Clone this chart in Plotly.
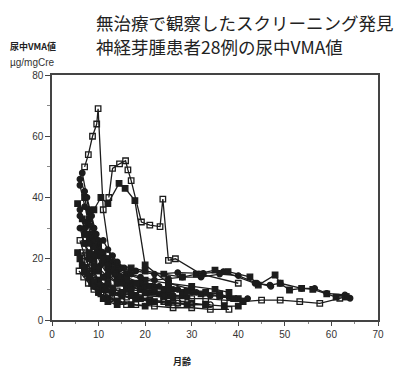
import plotly.graph_objects as go

# ---- data (month of age, urinary VMA µg/mgCre) ----
m01 = [7.0, 7.8, 8.7, 9.6, 9.9, 11.0, 12.5, 15, 19, 24, 30]
v01 = [50, 54, 60, 64, 69, 36, 20, 14, 10, 8, 7]
m02 = [12.2, 13, 14.5, 15.8, 16.3, 17, 19.2, 21, 23.2, 23.8, 25, 26.5, 32, 40]
v02 = [40, 49.5, 51, 52, 49, 45.5, 32, 31, 30.5, 39.5, 19.5, 20, 15, 12]
m03 = [9, 10.5, 12, 14.4, 15.7, 17.8, 20, 25, 30]
v03 = [36, 40, 38, 44.6, 43, 39, 18, 12, 10]
m04 = [6, 7, 8, 9, 10, 12, 14, 17, 21, 26]
v04 = [46, 42, 36, 30, 24, 18, 14, 11, 9, 7]
m05 = [5.5, 6.5, 7.5, 9, 11, 13, 16, 20, 25, 30, 35, 38]
v05 = [38, 33, 28, 24, 20, 17, 15, 13, 12, 11, 10, 9]
m06 = [6, 7, 8, 9.5, 11, 13, 15, 18, 22, 27, 32.5, 36.8, 43.6, 46.8, 49, 53.6, 56.4, 59, 62.9, 64]
v06 = [34, 30, 27, 24, 21, 19, 17, 16, 15, 15.5, 15.2, 15.8, 12, 11.4, 12, 10.3, 10.3, 8.7, 8.2, 7.1]
m07 = [7, 8, 9, 10.5, 12, 14, 17, 20, 24, 28, 31, 35, 37.8, 42.5, 44.3, 47.9, 49, 51, 53.6, 56, 59, 61, 63]
v07 = [28, 26, 24, 22, 20, 18, 17, 16, 15, 14, 15, 16.3, 15.8, 14.1, 11.4, 14.7, 12, 9.8, 10.3, 10, 8.5, 7.5, 7.6]
m08 = [6.5, 7.5, 8.5, 10, 12, 14, 17, 20, 24, 28, 33, 37, 41, 45, 49, 53.2, 57.5, 61.8, 63.2]
v08 = [22, 19, 16, 13, 11, 9.5, 8.5, 8, 7.5, 7, 7, 6.5, 6, 6.5, 6.5, 6, 5.4, 7.1, 7.6]
m09 = [6, 7, 8, 9, 10, 11, 13, 15, 18]
v09 = [30, 25, 20, 16, 13, 11, 9, 8, 7]
m10 = [7, 8, 9, 10, 12, 14, 16, 19, 22, 25, 28]
v10 = [25, 22, 20, 17, 14, 12, 11, 10, 9, 8, 8]
m11 = [6.5, 7.5, 8.5, 9.5, 11, 13, 15, 18, 21, 24, 27, 30, 34]
v11 = [18, 16, 14, 12, 10, 9, 8, 7, 6.5, 6, 5.5, 5, 5]
m12 = [5.5, 6.5, 7.5, 8.5, 10, 12, 14, 17, 20]
v12 = [22, 18, 15, 12, 9, 7, 6, 5, 4.5]
m13 = [8, 9, 10, 11, 12, 14, 16, 19, 23, 27, 31]
v13 = [35, 30, 26, 22, 19, 16, 14, 12, 11, 10, 9]
m14 = [7, 8, 9, 10, 11, 12.5, 14, 16, 18, 21]
v14 = [40, 33, 28, 24, 20, 16, 13, 10, 8, 6]
m15 = [6, 7, 8, 9, 10.5, 12, 14, 16]
v15 = [26, 21, 17, 13, 10, 8, 6, 5]
m16 = [8.5, 9.5, 10.5, 12, 14, 16, 19, 22, 26, 30, 34, 38, 42]
v16 = [28, 24, 21, 18, 15, 13, 12, 11, 10, 9, 8, 7.5, 7]
m17 = [6, 7, 8, 9, 10, 11, 12, 14]
v17 = [20, 17, 14, 11, 9, 7, 6, 5]
m18 = [7.5, 8.5, 9.5, 10.5, 12, 14, 17, 20, 23, 26, 29]
v18 = [32, 27, 22, 18, 15, 12, 10, 9, 8.5, 8, 7.5]
m19 = [9, 10, 11, 12, 13.5, 15, 17, 20, 24, 28, 32, 36, 40]
v19 = [24, 21, 19, 17, 15, 13.5, 12, 11, 10, 9, 8.5, 8, 7]
m20 = [6, 7, 8, 9, 10.5, 12, 14, 17, 20, 24]
v20 = [44, 37, 31, 26, 21, 17, 14, 11, 9, 8]
m21 = [5.8, 6.8, 7.8, 9, 10.5, 12.5, 15, 18, 22, 26, 30, 34, 38]
v21 = [16, 14, 12, 10, 8.5, 7, 6, 5, 4.5, 4, 4, 3.5, 3.5]
m22 = [10, 11, 12, 13, 14.5, 16, 18, 21, 25, 29, 33, 36, 39, 41]
v22 = [22, 20, 18, 16, 14, 13, 12, 11, 10, 9.5, 9, 8.5, 7, 6]
m23 = [6.5, 7.5, 8.5, 9.5, 10.5, 12, 13.5, 15, 17]
v23 = [48, 40, 34, 28, 22, 18, 15, 12, 10]
m24 = [7, 8, 9, 10, 11.5, 13, 15, 18, 21, 25, 29, 33, 37, 40]
v24 = [16, 14, 12.5, 11, 10, 9, 8, 7, 6, 5.5, 5, 5, 4.5, 4.5]
m25 = [11, 12, 13, 14, 15.5, 17, 19, 22, 25, 28, 32, 36, 40, 44, 47]
v25 = [26, 23, 21, 19, 17, 15, 14, 13, 13.5, 14, 14, 15, 14.5, 12, 11]
m26 = [8, 9, 10, 11, 12, 13, 15, 17, 19, 22]
v26 = [20, 18, 16, 14, 12, 10.5, 9, 8, 7, 6]
m27 = [6, 7, 8, 9, 10, 11, 12]
v27 = [36, 30, 25, 21, 17, 14, 12]
m28 = [9, 10, 11, 12, 14, 16, 18, 21, 24, 27, 30, 33]
v28 = [12, 11, 10, 9, 8, 7.5, 7, 6.5, 6, 5.5, 5.5, 5]

x_ticks = [0, 10, 20, 30, 40, 50, 60, 70]
y_ticks = [0, 20, 40, 60, 80]

months = [m01, m02, m03, m04, m05, m06, m07, m08, m09, m10, m11, m12, m13, m14,
          m15, m16, m17, m18, m19, m20, m21, m22, m23, m24, m25, m26, m27, m28]
values = [v01, v02, v03, v04, v05, v06, v07, v08, v09, v10, v11, v12, v13, v14,
          v15, v16, v17, v18, v19, v20, v21, v22, v23, v24, v25, v26, v27, v28]

symbols = ["square-open", "square-open", "square", "circle", "square", "circle",
           "square", "square-open", "circle", "square", "circle-open", "square",
           "circle", "square", "square-open", "circle", "square", "circle",
           "square", "circle", "square-open", "square", "circle", "square",
           "circle", "square", "circle", "square-open"]

ink = "#1c1c1c"
fig = go.Figure()
for mx, vy, sym in zip(months, values, symbols):
    fig.add_trace(go.Scatter(
        x=mx, y=vy, mode="lines+markers",
        line=dict(color=ink, width=1.3),
        marker=dict(symbol=sym, size=5.5, color=ink,
                    line=dict(color=ink, width=1.3)),
        showlegend=False, hoverinfo="skip"))

axis_font = dict(family="Liberation Sans, Arial", size=10, color="#333")
fig.update_xaxes(range=[0, 70], tickvals=x_ticks, ticks="outside", ticklen=4,
                 tickcolor="#444", showline=True, linecolor="#444", linewidth=1.5,
                 mirror=True, showgrid=False, zeroline=False, tickfont=axis_font,
                 automargin=False,
                 minor=dict(tickvals=[5, 15, 25, 35, 45, 55, 65], ticks="outside",
                            ticklen=2, tickcolor="#888"))
fig.update_yaxes(range=[0, 80], tickvals=y_ticks, ticks="outside", ticklen=5,
                 tickcolor="#444", showline=True, linecolor="#444", linewidth=1.5,
                 mirror=True, showgrid=False, zeroline=False, tickfont=axis_font,
                 automargin=False,
                 minor=dict(tickvals=[10, 30, 50, 70], ticks="outside",
                            ticklen=3, tickcolor="#888"))

jp = "Noto Sans CJK JP"
# (text, pixel x of left edge, pixel y of centre) in the 403x367 picture
labels = [("無治療で観察したスクリーニング発見", 95, 22),
          ("神経芽腫患者28例の尿中VMA値", 95, 47),
          ("<b>尿中VMA値</b>", 9, 47),
          ("µg/mgCre", 9, 62),
          ("<b>月齢</b>", 172, 361)]
styles = [dict(size=17.5, family=jp, color="#222"), dict(size=17.5, family=jp, color="#222"),
          dict(size=9, family=jp, color="#222"), dict(size=10, family="Liberation Sans, Arial", color="#333"),
          dict(size=9, family=jp, color="#222")]

L, R, T, B = 52, 25, 75, 47
pw, ph = 403 - L - R, 367 - T - B
ann = []
for (txt, px, py), f in zip(labels, styles):
    ann.append(dict(text=txt, showarrow=False, xref="paper", yref="paper",
                    x=(px - L) / pw, y=(367 - B - py) / ph,
                    xanchor="left", yanchor="middle", font=f, borderpad=0))

fig.update_layout(
    width=403, height=367,
    margin=dict(l=L, r=R, t=T, b=B, autoexpand=False),
    paper_bgcolor="white", plot_bgcolor="white",
    annotations=ann,
)

fig.write_html("out.html", config={"displayModeBar": False},
               post_script="document.body.style.margin='0';document.body.style.overflow='hidden';")
